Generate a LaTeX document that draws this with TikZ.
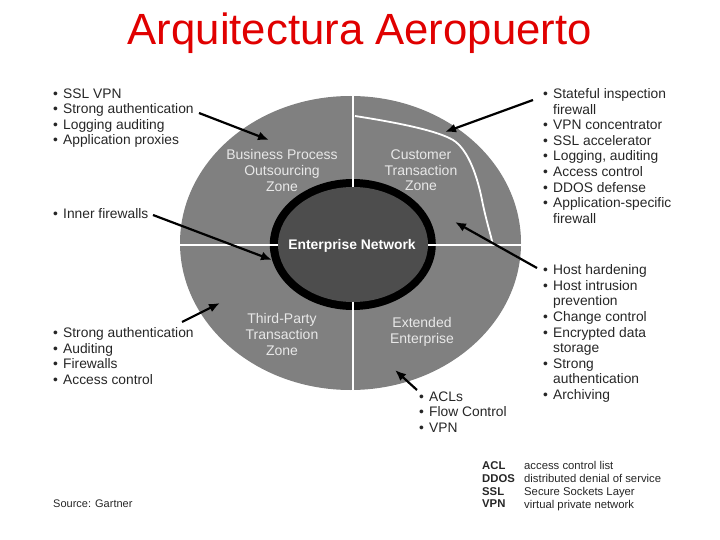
\documentclass[tikz,border=0pt]{standalone}
\usepackage{fontspec}
\setmainfont{Liberation Sans}
\definecolor{zonegray}{HTML}{808080}
\definecolor{coregray}{HTML}{4D4D4D}
\definecolor{labelgray}{HTML}{E8E8E8}
\definecolor{inkgray}{HTML}{262626}
\definecolor{titlered}{HTML}{E00000}
\newcommand{\bul}{\makebox[10pt][l]{•}}
\newcommand{\hang}{\hspace*{10pt}}
\tikzset{
  listtext/.style={anchor=north west,align=left,inner sep=0pt,text=inkgray,
    font=\fontsize{13.8}{15.65}\selectfont},
  smalltext/.style={anchor=north west,align=left,inner sep=0pt,text=inkgray,
    font=\fontsize{11.3}{12.7}\selectfont},
  zonetext/.style={align=center,inner sep=0pt,text=labelgray,
    font=\fontsize{14}{15.65}\selectfont},
  callout/.style={draw=black,line width=2.2pt,-{Latex[length=11pt,width=9pt]}},
  divider/.style={draw=white,line width=1.8pt},
}
\usetikzlibrary{arrows.meta}
\begin{document}
\begin{tikzpicture}[x=1pt,y=-1pt]
  \useasboundingbox (0,0) rectangle (720,540);
  \node[anchor=center,inner sep=0pt,text=titlered,font=\fontsize{43.7}{50}\selectfont] (title) at (359.8,33.5) {Arquitectura Aeropuerto};

  % disc and zones
  \fill[zonegray] (350.5,243) ellipse (170.5 and 147);
  \fill[black] (352.8,244.5) ellipse (83 and 65.5);
  \fill[coregray] (353,244.5) ellipse (75 and 57.5);
  \draw[divider] (353,96) -- (353,187);
  \draw[divider] (353,302) -- (353,390);
  \draw[divider] (180,245) -- (278,245);
  \draw[divider] (428,245) -- (521,245);
  \draw[divider] (355,116) .. controls (400,123) and (438,131) .. (453,140)
    .. controls (466,148) and (476,170) .. (482,200) .. controls (486,220) and (490,232) .. (493,245);

  \node[zonetext] (bpozone) at (282,170.5) {Business Process\\Outsourcing\\Zone};
  \node[zonetext] (ctzone) at (421,170.5) {Customer\\Transaction\\Zone};
  \node[zonetext] (tpzone) at (282,334.5) {Third-Party\\Transaction\\Zone};
  \node[zonetext] (eezone) at (422,331.8) {Extended\\Enterprise};
  \node[zonetext,text=white,font=\bfseries\fontsize{13.9}{15.65}\selectfont] (corelabel) at (352,245.5) {Enterprise Network};

  % lists
  \node[listtext] (bpolist) at (53,88.2) {\bul SSL VPN\\\bul Strong authentication\\\bul Logging auditing\\\bul Application proxies};
  \node[listtext] (fwlist) at (53,208) {\bul Inner firewalls};
  \node[listtext] (tplist) at (53,327.2) {\bul Strong authentication\\\bul Auditing\\\bul Firewalls\\\bul Access control};
  \node[listtext] (ctlist) at (543,88.2) {\bul Stateful inspection\\\hang firewall\\\bul VPN concentrator\\\bul SSL accelerator\\\bul Logging, auditing\\\bul Access control\\\bul DDOS defense\\\bul Application-specific\\\hang firewall};
  \node[listtext] (hostlist) at (543,264.2) {\bul Host hardening\\\bul Host intrusion\\\hang prevention\\\bul Change control\\\bul Encrypted data\\\hang storage\\\bul Strong\\\hang authentication\\\bul Archiving};
  \node[listtext] (eelist) at (419,391.2) {\bul ACLs\\\bul Flow Control\\\bul VPN};

  % legend
  \node[smalltext,font=\bfseries\fontsize{11.3}{12.7}\selectfont] (abbrev) at (482,461.6) {ACL\\DDOS\\SSL\\VPN};
  \node[smalltext] (meaning) at (524,461.6) {access control list\\distributed denial of service\\Secure Sockets Layer\\virtual private network};
  \node[smalltext,font=\fontsize{11}{12.7}\selectfont] (source) at (53,500) {Source: Gartner};

  % callouts
  \coordinate (bpostart) at (199,113);
  \coordinate (bpoend) at (269,140);
  \coordinate (ctstart) at (533,100);
  \coordinate (ctend) at (445,132);
  \coordinate (fwstart) at (153,215);
  \coordinate (fwend) at (272,260);
  \coordinate (hoststart) at (537,268);
  \coordinate (hostend) at (455,222);
  \coordinate (tpstart) at (182,322);
  \coordinate (tpend) at (220,303);
  \coordinate (eestart) at (417,390);
  \coordinate (eeend) at (395,370);
  \draw[callout] (bpostart) -- (bpoend);
  \draw[callout] (ctstart) -- (ctend);
  \draw[callout] (fwstart) -- (fwend);
  \draw[callout] (hoststart) -- (hostend);
  \draw[callout] (tpstart) -- (tpend);
  \draw[callout] (eestart) -- (eeend);
\end{tikzpicture}
\end{document}
